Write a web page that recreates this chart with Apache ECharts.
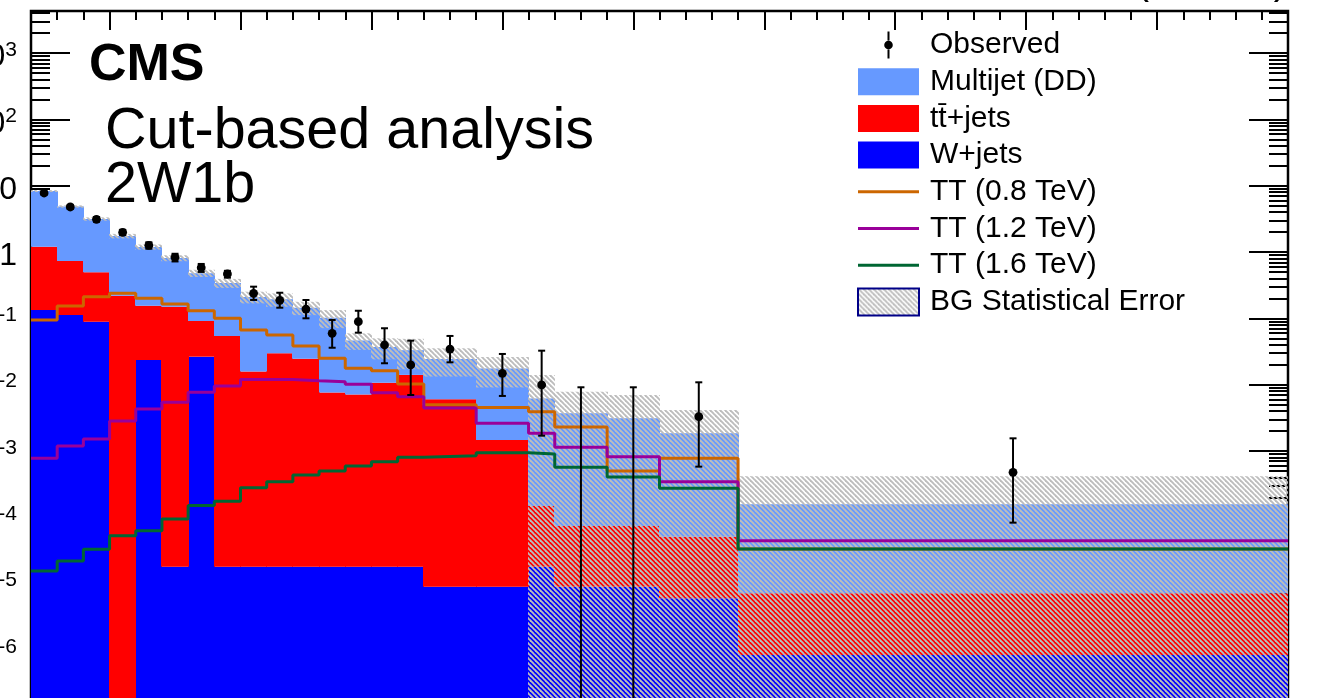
<!DOCTYPE html>
<html><head><meta charset="utf-8">
<script src="https://cdn.jsdelivr.net/npm/echarts@6/dist/echarts.min.js"></script>
<style>html,body{margin:0;padding:0;background:#fff;overflow:hidden}#c{width:1327px;height:698px}</style>
</head><body><div id="c"></div>
<script>
// ---------------- data ----------------
const binEdges = [200,300,400,500,600,700,800,900,1000,1100,1200,1300,1400,1500,1600,1700,1900,2100,2200,2400,2600,2900,5000];
const wjets    = [0.133,0.112,0.089,0,0.0235,1.8e-5,0.0264,1.8e-5,1.8e-5,1.8e-5,1.8e-5,1.8e-5,1.8e-5,1.8e-5,1.8e-5,9e-6,9e-6,1.8e-5,9e-6,9e-6,6.0e-6,8.4e-7];
const ttjets   = [1.067,0.619,0.405,0.219,0.1315,0.15,0.0646,0.054,0.0157,0.0297,0.0245,0.0076,0.0071,0.0107,0.014,0.006,0.00146,1.3e-4,6.5e-5,6.5e-5,4.5e-5,6.3e-6];
const multijet = [7.1,4.12,2.65,1.52,1.035,0.66,0.389,0.286,0.194,0.164,0.12,0.0944,0.0393,0.0263,0.019,0.0183,0.0161,0.00605,0.00363,0.00303,0.0018,1.5e-4];
const bgErr    = [0.29,0.2,0.185,0.137,0.107,0.084,0.059,0.053,0.042,0.044,0.033,0.031,0.013,0.013,0.016,0.011,0.0085,0.0078,0.0041,0.0039,0.0023,2.6e-4];
const observed = [7.75,4.77,3.11,1.98,1.26,0.83,0.58,0.466,0.238,0.187,0.138,0.0594,0.089,0.0396,0.0198,0.0344,0.0148,0.0099,0,0,0.00329,4.76e-4];
const obsLow   = [7.3,4.45,2.86,1.8,1.12,0.72,0.5,0.41,0.189,0.1445,0.1,0.036,0.0607,0.021,0.00698,0.0217,0.00675,0.0017,0,0,5.8e-4,8.3e-5];
const obsHigh  = [8.2,5.1,3.36,2.16,1.4,0.94,0.66,0.52,0.300,0.243,0.189,0.0944,0.130,0.0708,0.046,0.0542,0.029,0.0325,0.00912,0.00912,0.01084,0.00155];
const tt08     = [0.0944,0.1535,0.212,0.238,0.2,0.164,0.130,0.1,0.0667,0.0561,0.0383,0.0249,0.0176,0.0162,0.0102,0.00499,0.00452,0.00391,0.0023,4.99e-4,7.76e-4,3.33e-5];
const tt12     = [7.76e-4,0.00119,0.00152,0.00283,0.0043,0.00542,0.00767,0.00955,0.012,0.012,0.01148,0.01107,0.0101,0.00757,0.00658,0.00445,0.00261,0.00185,0.00114,8.2e-4,3.44e-4,4.44e-5];
const tt16     = [1.55e-5,2.19e-5,3.3e-5,5.28e-5,6.28e-5,9.44e-5,1.5e-4,1.74e-4,2.79e-4,3.44e-4,4.35e-4,4.99e-4,5.94e-4,6.89e-4,8.03e-4,8.49e-4,9.42e-4,9.01e-4,5.68e-4,4.06e-4,2.74e-4,3.33e-5];
const legendNames = ['Observed','Multijet (DD)','t\u0074\u0304+jets','W+jets','TT (0.8 TeV)','TT (1.2 TeV)','TT (1.6 TeV)','BG Statistical Error'];
const yTickLabels = [1e-6,1e-5,1e-4,1e-3,1e-2,1e-1,1,10,100,1000];
const XMIN = 200, XMAX = 5000, YMIN = 1.82e-7, YMAX = 4300;

// ---------------- helpers ----------------
const FONT = '"Liberation Sans", Arial, Helvetica, sans-serif';
const yMinor = [];
for (let e = -7; e <= 3; e++) for (let m = 2; m <= 9; m++) { const v = m * Math.pow(10, e); if (v > YMIN && v < YMAX) yMinor.push(v); }
const xMajor = [], xMinor = [];
for (let v = 300; v < XMAX; v += 100) { if (v % 500 === 0) xMajor.push(v); else xMinor.push(v); }

function hatch(color) {
  const s = 5, c = document.createElement('canvas');
  c.width = s; c.height = s;
  const g = c.getContext('2d');
  g.strokeStyle = color; g.lineWidth = 1.9;
  for (const k of [-s, 0, s]) { g.beginPath(); g.moveTo(k - 1, -1); g.lineTo(k + s + 1, s + 1); g.stroke(); }
  return { image: c, repeat: 'repeat' };
}
const hatchPat = hatch('#bdbdbd');

const nb = multijet.length;
const cum0 = [], cum1 = [], cum2 = [];
for (let i = 0; i < nb; i++) { cum0.push(wjets[i]); cum1.push(wjets[i] + ttjets[i]); cum2.push(wjets[i] + ttjets[i] + multijet[i]); }
const clampY = v => Math.max(v, YMIN);
function layer(lo, hi) { const d = []; for (let i = 0; i < nb; i++) d.push([binEdges[i], binEdges[i + 1], clampY(lo ? lo[i] : YMIN), clampY(hi[i])]); return d; }
const bandData = []; for (let i = 0; i < nb; i++) bandData.push([binEdges[i], binEdges[i + 1], clampY(cum2[i] - bgErr[i]), cum2[i] + bgErr[i]]);
const obsData = []; for (let i = 0; i < nb; i++) obsData.push([(binEdges[i] + binEdges[i + 1]) / 2, observed[i], obsLow[i], obsHigh[i]]);
function stepData(arr) { const d = []; for (let i = 0; i < nb; i++) d.push([binEdges[i], arr[i]]); d.push([binEdges[nb], arr[nb - 1]]); return d; }

function rectItem(fill) {
  return function (params, api) {
    const p0 = api.coord([api.value(0), api.value(3)]);
    const p1 = api.coord([api.value(1), api.value(2)]);
    const x0 = Math.floor(p0[0]), x1 = Math.ceil(p1[0]);
    return { type: 'rect', shape: { x: x0, y: p0[1], width: x1 - x0, height: p1[1] - p0[1] }, style: { fill: fill, stroke: null } };
  };
}
function obsItem(params, api) {
  const x = api.value(0), v = api.value(1), lo = api.value(2), hi = api.value(3);
  const top = api.coord([x, hi]);
  const bot = api.coord([x, lo > 0 ? lo : YMIN * 0.3]);
  const ch = [];
  const ls = { stroke: '#000', lineWidth: 2 };
  ch.push({ type: 'line', shape: { x1: top[0], y1: top[1], x2: bot[0], y2: bot[1] }, style: ls });
  ch.push({ type: 'line', shape: { x1: top[0] - 3.5, y1: top[1], x2: top[0] + 3.5, y2: top[1] }, style: ls });
  if (lo > 0) ch.push({ type: 'line', shape: { x1: bot[0] - 3.5, y1: bot[1], x2: bot[0] + 3.5, y2: bot[1] }, style: ls });
  if (v > 0) { const p = api.coord([x, v]); ch.push({ type: 'circle', shape: { cx: p[0], cy: p[1], r: 4.4 }, style: { fill: '#000' } }); }
  return { type: 'group', children: ch };
}

const tickStyle = { color: '#000', width: 2 };
function xAx(pos, vals, len) {
  return { type: 'value', min: XMIN, max: XMAX, position: pos, axisLine: { show: false }, splitLine: { show: false },
    axisLabel: { show: false }, axisTick: { show: true, inside: true, length: len, lineStyle: tickStyle, customValues: vals } };
}
function yAx(pos, vals, len, labels) {
  return { type: 'log', logBase: 10, min: YMIN, max: YMAX, position: pos, axisLine: { show: false }, splitLine: { show: false },
    axisTick: { show: true, inside: true, length: len, lineStyle: tickStyle, customValues: vals },
    axisLabel: labels ? {
      show: true, customValues: vals, margin: 14,
      formatter: function (v) {
        const e = Math.round(Math.log10(v));
        if (e === 0) return '{b|1}';
        if (e === 1) return '{b|10}';
        return '{b|10}{s|' + e + '}';
      },
      rich: { b: { fontSize: 32, fontFamily: FONT, color: '#000', padding: [9, 0, 0, 0] },
              s: { fontSize: 21, fontFamily: FONT, color: '#000', verticalAlign: 'top', padding: [7, 0, 0, 0] } }
    } : { show: false } };
}
const linePath = 'path://M0,0L61,0L61,3L0,3Z';

const chart = echarts.init(document.getElementById('c'), null, { renderer: 'canvas' });
chart.setOption({
  animation: false,
  backgroundColor: '#fff',
  grid: { left: 31, top: 11, width: 1257, height: 688, containLabel: false, outerBoundsMode: 'none',
          show: true, borderColor: '#000', borderWidth: 2.5, backgroundColor: 'transparent' },
  xAxis: [xAx('bottom', xMajor, 19), xAx('bottom', xMinor, 9), xAx('top', xMajor, 19), xAx('top', xMinor, 9)],
  yAxis: [yAx('left', yTickLabels, 39, true), yAx('left', yMinor, 19, false), yAx('right', yTickLabels, 39, false), yAx('right', yMinor, 19, false)],
  legend: {
    orient: 'vertical', left: 857, top: 30, padding: 0, itemWidth: 61, itemHeight: 27, itemGap: 6.7, selectedMode: false,
    textStyle: { fontSize: 30, lineHeight: 27, fontFamily: FONT, color: '#000', padding: [0, 0, 0, 6] },
    data: [
      { name: legendNames[0], icon: 'path://M3.3,0L5.3,0L5.3,9L3.3,9ZM3.3,18L5.3,18L5.3,27L3.3,27ZM0,13.5A4.3,4.3,0,1,1,8.6,13.5A4.3,4.3,0,1,1,0,13.5Z' },
      { name: legendNames[1], icon: 'rect' }, { name: legendNames[2], icon: 'rect' }, { name: legendNames[3], icon: 'rect' },
      { name: legendNames[4], icon: linePath }, { name: legendNames[5], icon: linePath }, { name: legendNames[6], icon: linePath },
      { name: legendNames[7], icon: 'rect' }
    ]
  },
  graphic: [
    { type: 'text', x: 89, y: 40, style: { text: 'CMS', fontSize: 52, fontWeight: 'bold', fontFamily: FONT, fill: '#000', verticalAlign: 'top', textVerticalAlign: 'top' } },
    { type: 'text', x: 105, y: 103.5, style: { text: 'Cut-based analysis', fontSize: 57.5, fontFamily: FONT, fill: '#000', verticalAlign: 'top', textVerticalAlign: 'top' } },
    { type: 'text', x: 105, y: 156.8, style: { text: '2W1b', fontSize: 57.5, fontFamily: FONT, fill: '#000', verticalAlign: 'top', textVerticalAlign: 'top' } },
    { type: 'text', x: 1287, y: -36.8, style: { text: '(13 TeV)', fontSize: 40, fontFamily: FONT, fill: '#000', align: 'right', textAlign: 'right', verticalAlign: 'top', textVerticalAlign: 'top' } }
  ],
  series: [
    { name: legendNames[3], type: 'custom', clip: true, z: 1, itemStyle: { color: '#0000ff' }, renderItem: rectItem('#0000ff'), encode: { x: [0, 1], y: [2, 3] }, data: layer(null, cum0) },
    { name: legendNames[2], type: 'custom', clip: true, z: 1, itemStyle: { color: '#ff0000' }, renderItem: rectItem('#ff0000'), encode: { x: [0, 1], y: [2, 3] }, data: layer(cum0, cum1) },
    { name: legendNames[1], type: 'custom', clip: true, z: 1, itemStyle: { color: '#6699ff' }, renderItem: rectItem('#6699ff'), encode: { x: [0, 1], y: [2, 3] }, data: layer(cum1, cum2) },
    { name: legendNames[7], type: 'custom', clip: true, z: 2, itemStyle: { color: hatchPat, borderColor: '#000088', borderWidth: 2 }, renderItem: rectItem(hatchPat), encode: { x: [0, 1], y: [2, 3] }, data: bandData },
    { name: legendNames[4], type: 'line', step: 'end', symbol: 'none', z: 3, color: '#cc6600', itemStyle: { color: '#cc6600' }, lineStyle: { color: '#cc6600', width: 3 }, data: stepData(tt08) },
    { name: legendNames[5], type: 'line', step: 'end', symbol: 'none', z: 3, color: '#990099', itemStyle: { color: '#990099' }, lineStyle: { color: '#990099', width: 3 }, data: stepData(tt12) },
    { name: legendNames[6], type: 'line', step: 'end', symbol: 'none', z: 3, color: '#006633', itemStyle: { color: '#006633' }, lineStyle: { color: '#006633', width: 3 }, data: stepData(tt16) },
    { name: legendNames[0], type: 'custom', clip: true, z: 4, itemStyle: { color: '#000' }, renderItem: obsItem, encode: { x: 0, y: [1, 2, 3] }, data: obsData }
  ]
});
</script></body></html>
